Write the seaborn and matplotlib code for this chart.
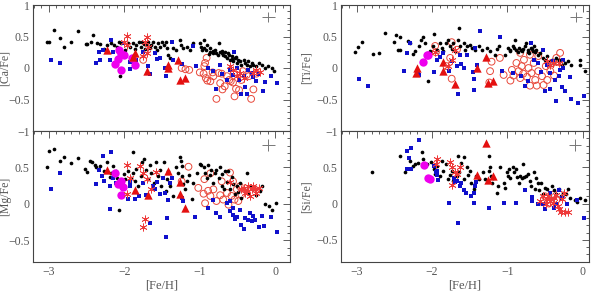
import numpy as np
import pandas as pd
import matplotlib
matplotlib.use("Agg")
import matplotlib.pyplot as plt
import seaborn as sns
from matplotlib.ticker import MultipleLocator

# ---------------- data ----------------
# Ca panel
ca_black_x = [-3.02,-3.0,-2.93,-2.85,-2.8,-2.71,-2.62,-2.51,-2.49,-2.44,-2.41,-2.36,-2.32,-2.27,-2.23,-2.18,-2.14,-2.10,-2.07,-2.06,-2.04,-1.99,-1.95,-1.92,-1.88,-1.86,-1.84,-1.80,-1.78,-1.76,-1.74,-1.72,-1.70,-1.68,-1.66,-1.64,-1.62,-1.59,-1.57,-1.55,-1.53,-1.50,-1.48,-1.45,-1.44,-1.42,-1.40,-1.35,-1.31,-1.26,-1.25,-1.22,-1.17,-1.13,-1.09,-1.0,-0.98,-0.95,-0.95,-0.92,-0.90,-0.87,-0.86,-0.83,-0.80,-0.78,-0.75,-0.73,-0.71,-0.69,-0.67,-0.64,-0.62,-0.60,-0.58,-0.56,-0.53,-0.51,-0.49,-0.47,-0.45,-0.42,-0.40,-0.38,-0.36,-0.33,-0.31,-0.29,-0.25,-0.22,-0.18,-0.13,-0.09,-0.05,-0.02,-0.97,-0.88,-0.82,-0.76,-0.70,-0.66,-0.61,-0.57,-0.52]
ca_black_y = [0.42,0.41,0.60,0.48,0.34,0.41,0.59,0.38,0.38,0.42,0.52,0.40,0.38,0.30,0.36,0.40,0.37,0.34,0.41,-0.12,0.39,0.29,0.40,0.34,0.39,0.30,0.37,0.41,0.34,0.42,0.38,0.30,0.36,0.41,0.32,0.37,0.41,0.34,0.29,0.40,0.34,0.41,0.37,0.41,0.32,0.21,0.16,0.32,0.28,0.45,0.37,0.32,0.34,0.29,0.40,0.39,0.34,0.45,0.32,0.29,0.37,0.26,0.32,0.24,0.29,0.24,0.40,0.26,0.24,0.20,0.26,0.16,0.24,0.13,0.19,0.11,0.16,0.08,0.13,0.11,0.05,0.13,0.08,0.05,0.11,0.03,0.08,0.05,0.03,0.08,0.05,0.0,0.03,0.0,-0.04,0.28,0.22,0.27,0.21,0.27,0.19,0.20,0.14,0.17]
ca_blue_x = [-2.97,-2.85,-2.37,-2.32,-2.34,-2.28,-2.18,-2.19,-2.15,-2.0,-1.93,-1.93,-1.91,-1.84,-1.75,-1.68,-1.66,-1.59,-1.57,-1.53,-1.46,-1.45,-1.37,-1.35,-1.24,-1.09,-1.05,-0.89,-0.82,-0.78,-0.73,-0.70,-0.64,-0.60,-0.56,-0.51,-0.48,-0.45,-0.42,-0.40,-0.38,-0.36,-0.31,-0.29,-0.26,-0.22,-0.16,-0.14,-0.06,0.02,-0.55]
ca_blue_y = [0.12,0.08,0.08,0.12,0.26,0.29,0.44,0.12,0.26,0.40,0.09,-0.01,0.11,0.12,0.26,0.03,-0.09,0.24,0.14,0.16,0.0,-0.12,0.41,0.13,0.07,0.35,0.03,0.0,-0.05,-0.33,0.05,-0.09,-0.19,-0.03,-0.11,0.0,-0.19,-0.42,-0.12,-0.30,-0.41,-0.03,-0.08,-0.14,-0.21,-0.09,-0.36,-0.23,-0.12,-0.24,0.25]
ca_mag_x = [-2.07,-2.05,-2.09,-2.12,-2.05,-1.90,-1.86,-2.0]
ca_mag_y = [0.28,0.23,0.14,0.06,-0.03,0.16,0.05,0.21]
ca_tri_x = [-2.23,-1.88,-1.86,-1.70,-1.42,-1.42,-1.29,-1.26,-1.19]
ca_tri_y = [0.28,0.17,0.24,-0.04,0.04,0.0,0.12,-0.19,-0.16]
ca_oc_x = [-1.75,-1.24,-1.19,-1.14,-1.0,-0.95,-0.93,-0.92,-0.90,-0.86,-0.83,-0.82,-0.78,-0.75,-0.73,-0.71,-0.70,-0.67,-0.64,-0.61,-0.59,-0.56,-0.54,-0.52,-0.48,-0.45,-0.43,-0.38,-0.35,-0.32,-0.29,-0.25,-0.91,-0.94,-0.55]
ca_oc_y = [0.13,0.0,-0.02,-0.03,-0.07,-0.09,0.08,-0.16,-0.20,-0.21,-0.07,-0.13,-0.49,-0.08,-0.24,-0.09,-0.34,-0.29,-0.13,-0.19,-0.21,-0.23,-0.45,-0.33,-0.35,-0.19,-0.05,-0.11,-0.13,-0.49,-0.34,-0.09,0.16,0.03,-0.08]
ca_ast_x = [-1.96,-1.97,-2.0,-1.70,-1.73,-1.68,-1.70,-1.75,-0.56,-0.47,-0.42,-0.29,-0.25,-0.20,-0.60,-0.51]
ca_ast_y = [0.51,0.37,0.42,0.50,0.42,0.34,0.24,0.19,-0.03,-0.08,-0.16,-0.08,-0.03,-0.07,0.03,-0.13]

# Ti panel
ti_black_x = [-3.02,-2.99,-2.93,-2.79,-2.70,-2.62,-2.51,-2.48,-2.42,-2.45,-2.42,-2.32,-2.29,-2.26,-2.23,-2.18,-2.15,-2.12,-2.09,-2.06,-2.03,-1.99,-1.98,-1.94,-1.90,-1.87,-1.85,-1.81,-1.79,-1.76,-1.74,-1.72,-1.69,-1.66,-1.64,-1.63,-1.58,-1.56,-1.54,-1.50,-1.47,-1.43,-1.38,-1.34,-1.27,-1.23,-1.16,-1.14,-1.11,-1.03,-0.99,-0.96,-0.93,-0.90,-0.88,-0.85,-0.82,-0.80,-0.77,-0.75,-0.73,-0.71,-0.69,-0.66,-0.65,-0.62,-0.60,-0.57,-0.53,-0.50,-0.47,-0.44,-0.41,-0.39,-0.35,-0.32,-0.28,-0.23,-0.19,-0.15,-0.04,-0.03,0.03,-0.97,-0.91,-0.86,-0.79,-0.72,-0.67,-0.63]
ti_black_y = [0.26,0.34,0.41,0.23,0.24,0.55,0.41,0.53,0.49,0.29,0.29,0.43,0.40,0.23,0.27,0.35,0.44,0.49,0.40,-0.20,0.27,0.35,0.54,0.29,0.40,0.32,0.27,0.40,0.45,0.35,0.30,0.40,0.27,0.45,0.64,0.35,0.40,0.29,0.35,0.37,0.32,0.29,0.35,0.29,0.32,0.27,0.21,0.30,0.35,0.21,0.32,0.29,0.35,0.45,0.28,0.32,0.29,0.27,0.35,0.40,0.29,0.24,0.32,0.27,0.35,0.29,0.21,0.24,0.16,0.13,0.19,0.11,0.13,0.08,0.16,0.12,0.05,0.08,0.11,0.04,0.13,0.04,-0.04,0.27,0.31,0.26,0.30,0.26,0.30,0.25]
ti_blue_x = [-2.97,-2.85,-2.37,-2.33,-2.29,-2.19,-2.18,-1.98,-1.94,-1.90,-1.86,-1.77,-1.74,-1.67,-1.65,-1.63,-1.61,-1.58,-1.54,-1.46,-1.45,-1.44,-1.43,-1.41,-1.36,-1.10,-1.07,-0.92,-0.82,-0.77,-0.73,-0.68,-0.65,-0.59,-0.56,-0.53,-0.50,-0.48,-0.44,-0.43,-0.39,-0.37,-0.35,-0.32,-0.30,-0.28,-0.26,-0.23,-0.17,-0.15,-0.06,0.02,-0.26]
ti_blue_y = [-0.17,-0.28,-0.04,0.24,0.40,-0.07,-0.11,-0.06,0.13,0.18,0.24,-0.04,0.11,0.03,-0.41,0.21,0.06,0.0,0.20,-0.07,-0.35,-0.18,0.32,0.04,0.58,0.49,-0.05,-0.08,-0.12,-0.28,-0.21,0.40,0.13,0.08,-0.07,0.28,-0.37,0.04,-0.34,-0.08,0.11,-0.19,-0.52,-0.13,-0.03,-0.30,0.13,-0.37,-0.14,-0.49,-0.55,-0.45,0.0]
ti_mag_x = [-2.12,-2.07,-2.05]
ti_mag_y = [0.10,0.21,0.20]
ti_tri_x = [-2.22,-2.20,-1.86,-1.86,-1.69,-1.41,-1.28,-1.26,-1.19]
ti_tri_y = [-0.08,0.0,0.09,-0.04,-0.25,0.0,0.18,-0.24,-0.20]
ti_oc_x = [-1.96,-1.95,-1.81,-1.74,-1.76,-1.74,-1.67,-1.23,-1.21,-1.24,-1.10,-1.05,-0.96,-0.94,-0.92,-0.88,-0.85,-0.83,-0.81,-0.79,-0.78,-0.74,-0.72,-0.70,-0.68,-0.65,-0.63,-0.61,-0.59,-0.54,-0.52,-0.49,-0.47,-0.43,-0.40,-0.38,-0.35,-0.31,-0.30,-0.70,-0.83,-0.59]
ti_oc_y = [0.35,0.25,0.03,-0.17,0.16,0.41,0.29,-0.05,0.10,-0.23,0.16,-0.11,-0.20,-0.03,-0.12,0.08,-0.05,-0.16,0.03,-0.09,0.13,-0.14,0.0,-0.28,-0.08,0.08,-0.19,-0.28,-0.05,-0.13,-0.27,0.03,-0.19,-0.05,0.08,-0.12,0.16,0.09,0.24,0.21,0.24,0.19]
ti_ast_x = [-1.96,-1.79,-1.69,-1.74,-0.43,-0.39,-0.32,-0.48]
ti_ast_y = [0.25,0.03,0.29,0.13,0.05,0.08,0.08,0.11]

# Mg panel
mg_black_x = [-3.0,-2.93,-3.02,-2.85,-2.8,-2.71,-2.62,-2.52,-2.49,-2.45,-2.43,-2.39,-2.37,-2.32,-2.27,-2.23,-2.19,-2.17,-2.15,-2.11,-2.10,-2.07,-2.05,-2.01,-1.99,-1.95,-1.91,-1.89,-1.88,-1.86,-1.84,-1.82,-1.78,-1.76,-1.74,-1.71,-1.68,-1.66,-1.64,-1.61,-1.58,-1.55,-1.53,-1.51,-1.48,-1.45,-1.44,-1.42,-1.40,-1.35,-1.31,-1.29,-1.26,-1.25,-1.24,-1.23,-1.22,-1.20,-1.17,-1.14,-1.11,-1.09,-1.04,-1.0,-0.99,-0.95,-0.93,-0.91,-0.89,-0.87,-0.85,-0.82,-0.80,-0.78,-0.75,-0.73,-0.71,-0.70,-0.68,-0.67,-0.64,-0.62,-0.60,-0.58,-0.56,-0.54,-0.51,-0.49,-0.47,-0.45,-0.42,-0.38,-0.36,-0.33,-0.29,-0.25,-0.20,-0.17,-0.14,-0.08,-0.05,0.01]
mg_black_y = [0.73,0.76,0.50,0.59,0.64,0.56,0.63,0.48,0.44,0.59,0.57,0.54,0.50,0.52,0.45,0.58,0.37,0.43,0.52,0.45,0.36,-0.08,0.29,0.41,0.34,0.45,0.36,0.71,0.43,0.31,0.48,0.24,0.38,0.57,0.61,0.47,0.34,0.54,0.43,0.29,0.57,0.38,0.47,0.24,0.57,0.18,0.34,0.45,0.24,0.11,0.50,0.43,0.64,0.59,0.52,0.38,0.27,0.20,0.31,0.39,0.07,0.29,0.43,0.55,0.53,0.50,0.43,0.35,0.54,0.39,0.47,0.29,0.43,0.47,0.35,0.50,0.24,0.41,0.20,0.45,0.30,0.45,0.20,0.37,0.27,0.13,0.24,0.16,0.29,0.08,0.20,0.42,0.15,0.24,0.20,0.12,0.18,0.24,0.0,-0.03,-0.08,0.01]
mg_blue_x = [-2.97,-2.85,-2.37,-2.34,-2.30,-2.28,-2.27,-2.18,-2.19,-2.19,-2.15,-2.11,-1.95,-1.93,-1.92,-1.86,-1.80,-1.75,-1.71,-1.66,-1.62,-1.60,-1.57,-1.53,-1.49,-1.46,-1.45,-1.44,-1.42,-1.40,-1.37,-1.24,-1.22,-1.06,-0.89,-0.82,-0.78,-0.73,-0.64,-0.60,-0.56,-0.54,-0.51,-0.47,-0.45,-0.42,-0.40,-0.36,-0.33,-0.31,-0.29,-0.27,-0.22,-0.18,-0.15,-0.06,0.02,-0.56,-0.60]
mg_blue_y = [0.21,0.42,0.27,0.47,0.38,0.66,0.31,0.71,0.24,-0.07,0.35,0.29,0.07,0.24,0.30,0.07,0.11,0.29,0.12,-0.26,0.24,0.20,0.30,0.13,0.35,0.15,-0.46,-0.19,0.06,0.29,0.35,0.08,0.04,-0.18,-0.05,0.06,-0.12,-0.18,0.01,-0.10,-0.15,-0.21,-0.18,-0.08,-0.29,-0.35,-0.19,-0.22,-0.12,-0.24,-0.17,-0.22,-0.31,-0.17,-0.30,-0.18,-0.39,-0.06,0.04]
mg_mag_x = [-2.12,-2.05,-2.02,-2.04,-2.08]
mg_mag_y = [0.42,0.31,0.23,0.12,0.27]
mg_tri_x = [-2.23,-1.86,-1.69,-1.42,-1.26,-1.26,-1.19]
mg_tri_y = [0.47,0.19,0.12,0.45,0.30,0.13,-0.05]
mg_oc_x = [-1.24,-1.15,-1.02,-0.95,-0.93,-0.89,-0.86,-0.82,-0.78,-0.73,-0.71,-0.69,-0.64,-0.62,-0.60,-0.58,-0.56,-0.54,-0.51,-0.49,-0.47,-0.45,-0.94,-0.86]
mg_oc_y = [0.31,0.51,0.22,0.14,0.01,0.18,0.11,0.20,0.04,0.12,0.31,0.06,0.15,-0.01,0.43,0.11,0.31,0.06,0.20,0.04,0.24,0.13,0.34,0.42]
mg_ast_x = [-1.96,-1.93,-1.96,-1.79,-1.75,-1.70,-1.58,-1.73,-1.75,-1.65,-0.42,-0.38,-0.36,-0.31,-0.29,-0.25,-0.40,-0.33,-0.27,-0.22,-0.45,-0.60]
mg_ast_y = [0.53,0.35,0.13,0.52,0.43,0.34,0.44,-0.20,-0.31,0.20,0.22,0.18,0.24,0.20,0.24,0.15,0.15,0.11,0.21,0.22,0.20,0.30]

# Si panel
si_black_x = [-2.80,-2.42,-2.36,-2.29,-2.25,-2.23,-2.19,-2.14,-2.12,-2.07,-2.02,-1.98,-1.96,-1.93,-1.90,-1.87,-1.85,-1.82,-1.79,-1.76,-1.74,-1.72,-1.67,-1.65,-1.64,-1.61,-1.58,-1.58,-1.54,-1.52,-1.50,-1.48,-1.45,-1.42,-1.38,-1.33,-1.30,-1.25,-1.25,-1.23,-1.22,-1.21,-1.19,-1.14,-1.12,-1.10,-1.05,-1.03,-1.01,-0.99,-0.98,-0.96,-0.93,-0.91,-0.88,-0.87,-0.85,-0.83,-0.81,-0.79,-0.78,-0.75,-0.72,-0.70,-0.68,-0.65,-0.63,-0.62,-0.60,-0.58,-0.56,-0.53,-0.50,-0.48,-0.44,-0.41,-0.38,-0.35,-0.32,-0.29,-0.26,-0.22,-0.19,-0.17,-0.10,-0.07,-0.04,0.03]
si_black_y = [0.43,0.65,0.44,0.59,0.52,0.54,0.56,0.71,0.61,0.54,0.57,0.47,0.41,0.52,0.38,0.59,0.45,0.54,0.34,0.40,0.45,0.31,0.38,0.65,0.43,0.56,0.64,0.34,0.50,0.40,0.45,0.29,0.20,0.38,0.34,0.43,0.34,0.66,0.45,0.50,0.38,0.29,0.35,0.15,0.24,0.50,0.29,0.22,0.43,0.38,0.47,0.35,0.51,0.43,0.47,0.36,0.29,0.38,0.35,0.54,0.37,0.38,0.41,0.31,0.24,0.43,0.20,0.35,0.28,0.18,0.29,0.13,0.22,0.20,0.13,0.24,0.18,0.13,0.20,0.11,0.15,0.13,0.20,0.07,0.05,0.02,0.07,0.05]
si_blue_x = [-2.34,-2.28,-2.33,-2.31,-2.28,-2.18,-1.98,-1.95,-1.94,-1.93,-1.92,-1.77,-1.71,-1.70,-1.67,-1.63,-1.65,-1.61,-1.58,-1.55,-1.48,-1.45,-1.44,-1.43,-1.42,-1.24,-1.05,-0.88,-0.76,-0.67,-0.67,-0.59,-0.53,-0.50,-0.46,-0.43,-0.38,-0.35,-0.31,-0.28,-0.21,-0.08,0.02]
si_blue_y = [0.47,0.47,0.73,0.63,0.76,0.88,0.52,0.43,0.45,0.40,0.32,0.01,0.35,0.30,0.31,0.24,-0.27,0.29,0.18,0.15,0.11,0.01,0.15,0.24,0.30,-0.06,0.01,0.01,0.18,0.09,0.04,-0.01,-0.01,-0.07,0.06,0.15,-0.06,-0.01,0.18,0.08,0.0,0.05,-0.20]
si_mag_x = [-2.11,-2.05,-2.03]
si_mag_y = [0.53,0.35,0.34]
si_tri_x = [-1.29,-1.40,-1.26,-1.19]
si_tri_y = [0.84,0.39,0.32,0.38]
si_oc_x = [-0.50,-0.45,-0.40,-0.35]
si_oc_y = [0.10,0.0,0.12,0.05]
si_ast_x = [-1.93,-1.95,-1.76,-1.73,-1.70,-1.63,-1.74,-1.67,-0.57,-0.53,-0.48,-0.46,-0.44,-0.42,-0.40,-0.38,-0.35,-0.33,-0.31,-0.29,-0.24,-0.20,-0.27,-0.25,-0.49]
si_ast_y = [0.62,0.54,0.57,0.50,0.44,0.50,0.25,0.41,0.04,0.11,0.06,0.11,0.04,0.08,0.01,0.07,0.12,-0.03,-0.08,-0.12,-0.12,-0.12,0.06,0.15,-0.01]

# typical error bar (one per panel)
err_x = [-0.09, -0.09, -0.09, -0.10]
err_y = [0.81, 0.81, 0.81, 0.81]
err_dx = [0.08, 0.08, 0.08, 0.08]
err_dy = [0.08, 0.08, 0.08, 0.08]

ylabels = ["[Ca/Fe]", "[Ti/Fe]", "[Mg/Fe]", "[Si/Fe]"]
xlabel = "[Fe/H]"

# ---------------- plotting ----------------
sns.set_style("white")
plt.rcParams['font.family'] = ['Liberation Serif', 'DejaVu Serif']

fig = plt.figure(figsize=(6.0, 2.91), dpi=100)
frame_col = '#444444'
text_col = '#555555'

positions = [
    [33/600, 1-131/291, 257/600, 126/291],
    [341/600, 1-131/291, 247.7/600, 126/291],
    [33/600, 1-262.3/291, 257/600, 131.3/291],
    [341/600, 1-262.3/291, 247.7/600, 131.3/291],
]
xlims = [(-3.21, 0.195), (-3.21, 0.08), (-3.21, 0.195), (-3.21, 0.08)]
ylims = [(-1, 1), (-1, 1), (-0.8, 1.0), (-0.81, 1.0)]
ylab_x = [-22/257, -28/247.7, -22/257, -28/247.7]

panels = [
    (ca_black_x, ca_black_y, ca_blue_x, ca_blue_y, ca_mag_x, ca_mag_y, ca_tri_x, ca_tri_y, ca_oc_x, ca_oc_y, ca_ast_x, ca_ast_y),
    (ti_black_x, ti_black_y, ti_blue_x, ti_blue_y, ti_mag_x, ti_mag_y, ti_tri_x, ti_tri_y, ti_oc_x, ti_oc_y, ti_ast_x, ti_ast_y),
    (mg_black_x, mg_black_y, mg_blue_x, mg_blue_y, mg_mag_x, mg_mag_y, mg_tri_x, mg_tri_y, mg_oc_x, mg_oc_y, mg_ast_x, mg_ast_y),
    (si_black_x, si_black_y, si_blue_x, si_blue_y, si_mag_x, si_mag_y, si_tri_x, si_tri_y, si_oc_x, si_oc_y, si_ast_x, si_ast_y),
]

for i, (pos, pdata) in enumerate(zip(positions, panels)):
    ax = fig.add_axes(pos)
    bx, by, ux, uy, mx, my, tx, ty, ox, oy, sx, sy = pdata
    sns.scatterplot(x=ox, y=oy, ax=ax, marker='o', s=24, facecolors='none',
                    edgecolor='#e8483a', linewidth=0.7)
    sns.scatterplot(x=bx, y=by, ax=ax, marker='o', s=7, color='black', linewidth=0)
    sns.scatterplot(x=ux, y=uy, ax=ax, marker='s', s=11, color='#1010cc', linewidth=0)
    sns.scatterplot(x=mx, y=my, ax=ax, marker='o', s=36, color='#ee00ee', linewidth=0)
    sns.scatterplot(x=tx, y=ty, ax=ax, marker='^', s=36, color='#e41010', linewidth=0)
    sns.scatterplot(x=sx, y=sy, ax=ax, marker=(6, 2, 0), s=28, color='#ee3a3a', linewidth=0.55)
    ax.errorbar([err_x[i]], [err_y[i]], xerr=[err_dx[i]], yerr=[err_dy[i]],
                fmt='none', ecolor='#777777', elinewidth=0.7, capsize=0)

    ax.set_xlim(*xlims[i])
    ax.set_ylim(*ylims[i])
    ax.xaxis.set_major_locator(MultipleLocator(1))
    ax.xaxis.set_minor_locator(MultipleLocator(0.1))
    ax.yaxis.set_minor_locator(MultipleLocator(0.1))
    ax.tick_params(which='both', direction='in', top=True, right=True,
                   colors=frame_col, labelcolor=text_col, labelsize=8.5, width=0.6, pad=2.5)
    ax.tick_params(which='major', length=5)
    ax.tick_params(which='minor', length=2.5)
    for sp in ax.spines.values():
        sp.set_color(frame_col)
        sp.set_linewidth(0.8)
    ax.set_ylabel(ylabels[i], fontsize=8.5, color=text_col)
    ax.yaxis.set_label_coords(ylab_x[i], 0.5)
    if i < 2:
        ax.tick_params(labelbottom=False)
        ax.set_yticks([-1, -0.5, 0, 0.5, 1])
        ax.set_yticklabels(["\u22121", "\u22120.5", "0", "0.5", "1"])
        ax.set_xlabel("")
    else:
        ax.set_yticks([-0.5, 0, 0.5])
        ax.set_yticklabels(["\u22120.5", "0", "0.5"])
        ax.set_xticks([-3, -2, -1, 0])
        ax.set_xticklabels(["\u22123", "\u22122", "\u22121", "0"])
        ax.set_xlabel(xlabel, fontsize=9, color=text_col, va='center')
        ax.xaxis.set_label_coords(0.5, -23/131.3)
    ax.yaxis.set_minor_locator(MultipleLocator(0.1))

fig.savefig("out.png", dpi=100)
